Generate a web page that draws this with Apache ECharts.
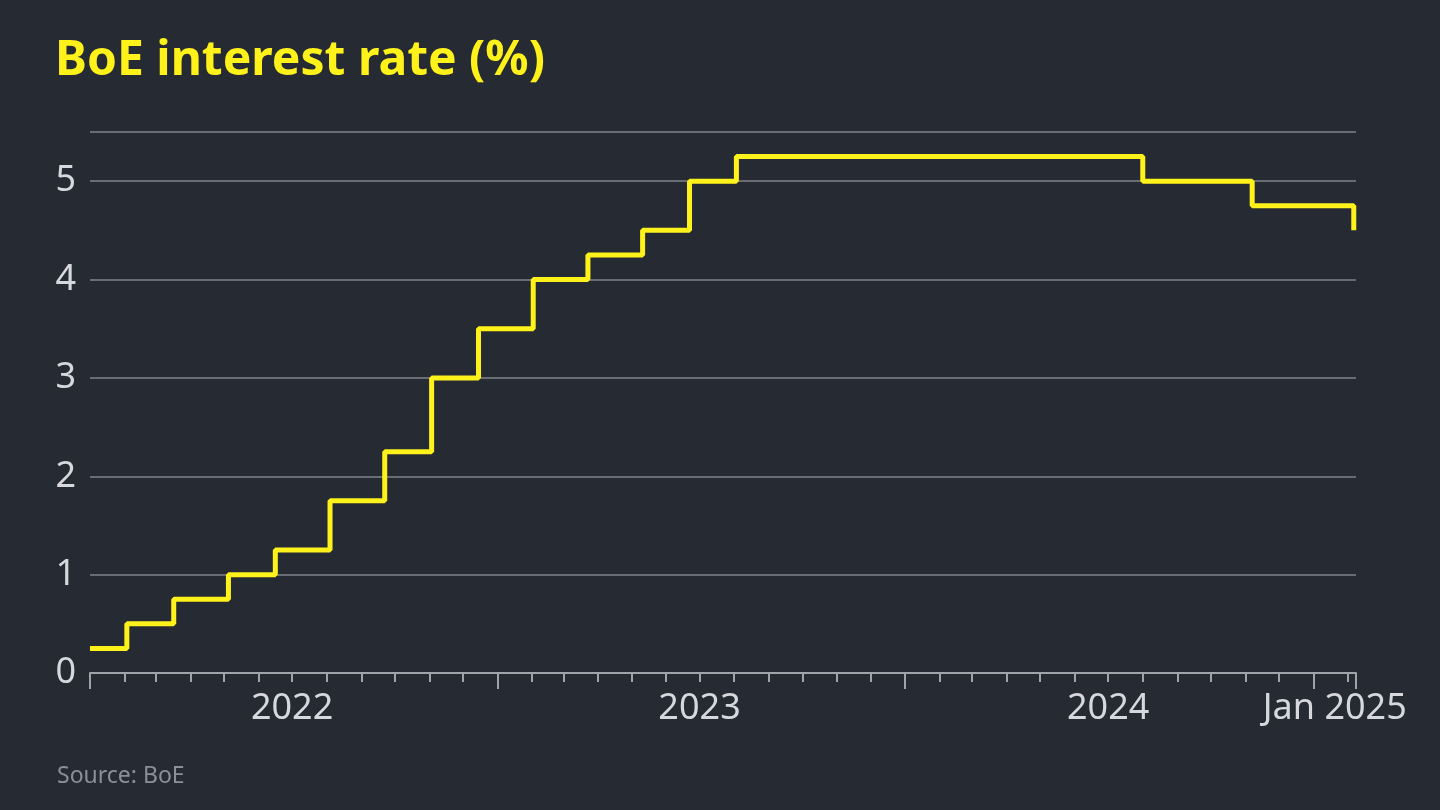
<!DOCTYPE html>
<html><head><meta charset="utf-8">
<script src="https://cdn.jsdelivr.net/npm/echarts@6/dist/echarts.min.js"></script>
<style>html,body{margin:0;background:#262a33;}#c{width:1440px;height:810px;}</style>
</head><body><div id="c"></div>
<script>
const dates = ['2022-01-01','2022-02-03','2022-03-17','2022-05-05','2022-06-16','2022-08-04','2022-09-22','2022-11-03','2022-12-15','2023-02-02','2023-03-23','2023-05-11','2023-06-22','2023-08-03','2024-08-01','2024-11-07','2025-02-06'];
const rates = [0.25,0.5,0.75,1,1.25,1.75,2.25,3,3.5,4,4.25,4.5,5,5.25,5,4.75,4.5];
const yTicks = [0,1,2,3,4,5];
const xLabelDates = ['2022-07-01','2023-07-01','2024-07-01','2025-01-20'];
const xLabelText = ['2022','2023','2024','Jan 2025'];
const yearTicks = ['2022-01-01','2023-01-01','2024-01-01','2025-01-01'];

const t = s => new Date(s + 'T00:00:00Z').getTime();
const months = [];
for (let y = 2022; y <= 2025; y++) for (let m = 0; m < 12; m++) {
  const v = Date.UTC(y, m, 1); if (v <= t('2025-02-01')) months.push(v);
}
const xmin = t('2022-01-01'), xmax = t('2025-02-08');
const labelVals = xLabelDates.map(t);
const chart = echarts.init(document.getElementById('c'));
const font = 'Noto Sans';
chart.setOption({
  backgroundColor: '#262a33',
  animation: false,
  title: [
    {text: 'BoE interest rate (%)', left: 50, top: 32, textStyle: {color: '#fff21a', fontSize: 48, fontWeight: 'bold', fontFamily: font}},
    {text: 'Source: BoE', left: 52, top: 760, textStyle: {color: '#8c8f98', fontSize: 23, fontWeight: 'normal', fontFamily: font}}
  ],
  grid: {left: 90, right: 84, top: 132, bottom: 137},
  xAxis: [{
    type: 'value', min: xmin, max: xmax,
    axisLine: {show: true, lineStyle: {color: '#a0a3aa', width: 2}},
    axisTick: {show: true, length: 9, lineStyle: {color: '#a0a3aa', width: 2}, customValues: months.concat([xmax])},
    axisLabel: {show: true, customValues: labelVals, margin: 18,
      formatter: v => { const i = labelVals.indexOf(v); return i >= 0 ? xLabelText[i] : ''; },
      color: '#d6d8de', fontSize: 36, fontFamily: font},
    splitLine: {show: false}
  }, {
    type: 'value', min: xmin, max: xmax, position: 'bottom',
    axisLine: {show: false},
    axisTick: {show: true, length: 16, lineStyle: {color: '#a0a3aa', width: 2}, customValues: yearTicks.map(t).concat([xmin, xmax])},
    axisLabel: {show: false}, splitLine: {show: false}
  }],
  yAxis: {
    type: 'value', min: 0, max: 5.5,
    axisLabel: {customValues: yTicks, color: '#d6d8de', fontSize: 36, fontFamily: font, margin: 14},
    axisLine: {show: false}, axisTick: {show: false},
    splitLine: {show: true, lineStyle: {color: '#80838b', width: 1.5}}
  },
  series: [{
    type: 'line', step: 'end', symbol: 'none', clip: false,
    lineStyle: {color: '#fff21a', width: 5},
    data: dates.map((d, i) => {
      const item = {value: [t(d), rates[i]]};
      if (i === dates.length - 1) item.label = {show: true, formatter: '4.5%', position: [-22, 20], align: 'right', verticalAlign: 'middle', color: '#fff21a', fontSize: 52, fontWeight: 'bold', fontFamily: font};
      return item;
    })
  }]
});
</script></body></html>
